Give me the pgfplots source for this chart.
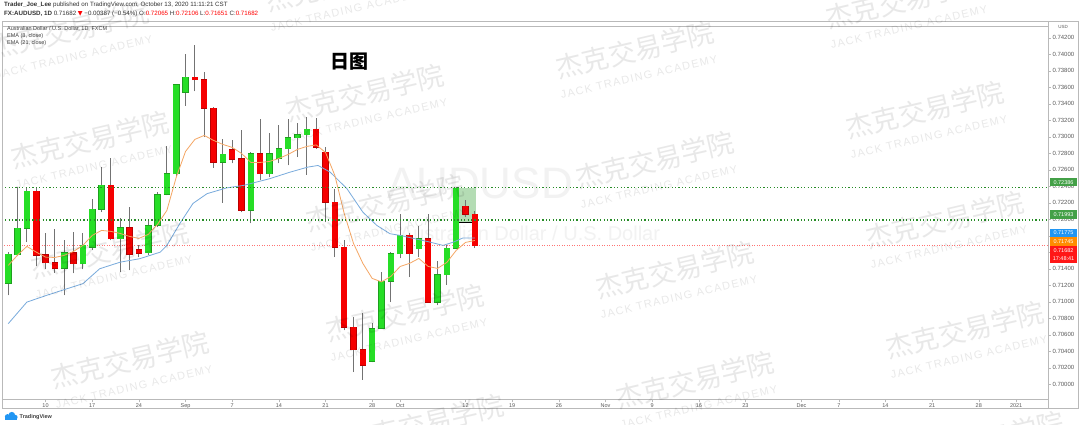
\documentclass[border=0pt]{standalone}
\usepackage{pgfplots}
\pgfplotsset{compat=1.18}
\usepackage{pgfplotstable}
\usepackage{fontspec}
\setmainfont{Liberation Sans}
\newfontfamily\cjk{Noto Sans CJK SC}
\newfontfamily\dejavu{DejaVu Sans}
\newfontfamily\wmfont[LetterSpace=12]{Liberation Sans}

\definecolor{cgreen}{RGB}{38,222,38}
\definecolor{cgreenb}{RGB}{30,160,30}
\definecolor{cred}{RGB}{245,0,0}
\definecolor{credb}{RGB}{185,0,0}
\definecolor{wick}{RGB}{115,115,115}
\definecolor{emaor}{RGB}{245,166,100}
\definecolor{emabl}{RGB}{120,170,220}
\definecolor{hgreen}{RGB}{40,140,40}
\definecolor{boxgreen}{RGB}{67,160,71}
\definecolor{boxblue}{RGB}{33,150,243}
\definecolor{boxorange}{RGB}{255,140,0}
\definecolor{boxred}{RGB}{255,23,23}
\definecolor{tvblue}{RGB}{33,150,243}
\definecolor{axgray}{RGB}{185,185,185}
\definecolor{txtgray}{RGB}{90,90,90}
\definecolor{posgreen}{RGB}{180,220,180}

\pgfplotstableread{
i O H L C
0 0.71224 0.71600 0.71079 0.71576
1 0.71572 0.72388 0.71551 0.71895
2 0.71895 0.72391 0.71725 0.72339
6 0.71410 0.71745 0.71079 0.71596
8 0.71463 0.71830 0.71394 0.71685
9 0.71660 0.72242 0.71624 0.72121
10 0.72121 0.72634 0.72088 0.72412
12 0.71766 0.72016 0.71358 0.71901
15 0.71594 0.71988 0.71564 0.71924
16 0.71927 0.72327 0.71903 0.72299
17 0.72303 0.72888 0.72291 0.72554
18 0.72554 0.73642 0.72513 0.73630
19 0.73543 0.74008 0.73376 0.73725
23 0.72694 0.72970 0.72200 0.72788
26 0.72109 0.72812 0.71952 0.72796
28 0.72554 0.73042 0.72509 0.72796
29 0.72743 0.73139 0.72679 0.72857
30 0.72857 0.73221 0.72654 0.72990
31 0.72990 0.73164 0.72755 0.73027
32 0.73027 0.73236 0.72542 0.73091
39 0.70279 0.70739 0.70267 0.70675
40 0.70682 0.71361 0.70673 0.71248
41 0.71248 0.71600 0.70998 0.71584
42 0.71584 0.72069 0.71527 0.71806
44 0.71645 0.71921 0.71543 0.71766
46 0.70998 0.71491 0.70958 0.71331
47 0.71331 0.71685 0.71208 0.71652
48 0.71652 0.72391 0.71648 0.72379
}\greencandles

\pgfplotstableread{
i O H L C
3 0.72339 0.72391 0.71434 0.71564
4 0.71572 0.71830 0.71394 0.71475
5 0.71475 0.71885 0.71352 0.71410
7 0.71596 0.71842 0.71345 0.71463
11 0.72412 0.72739 0.71745 0.71766
13 0.71901 0.72145 0.71382 0.71576
14 0.71633 0.71685 0.71539 0.71592
20 0.73725 0.74109 0.73552 0.73693
21 0.73693 0.73785 0.72998 0.73349
22 0.73349 0.73360 0.72624 0.72694
24 0.72845 0.72958 0.72679 0.72731
25 0.72733 0.73079 0.72085 0.72109
27 0.72796 0.73221 0.72473 0.72554
33 0.73091 0.73228 0.72857 0.72876
34 0.72816 0.72873 0.71967 0.72210
35 0.72210 0.72372 0.71543 0.71661
36 0.71661 0.71745 0.70655 0.70695
37 0.70695 0.70818 0.70149 0.70418
38 0.70418 0.70861 0.70058 0.70230
43 0.71806 0.71830 0.71301 0.71584
45 0.71766 0.72069 0.70988 0.70998
49 0.72161 0.72230 0.72024 0.72065
50 0.72065 0.72106 0.71651 0.71682
}\redcandles

\pgfplotstableread{
i v
0 0.71442
1 0.71567
2 0.71673
3 0.71604
4 0.71543
5 0.71539
6 0.71564
7 0.71612
8 0.71685
9 0.71806
10 0.71867
11 0.71855
12 0.71830
13 0.71794
14 0.71770
15 0.71818
16 0.71940
17 0.72109
18 0.72509
19 0.72824
20 0.72970
21 0.73018
22 0.72958
23 0.72909
24 0.72873
25 0.72800
26 0.72691
27 0.72691
28 0.72703
29 0.72739
30 0.72788
31 0.72849
32 0.72885
33 0.72903
34 0.72812
35 0.72533
36 0.72073
37 0.71709
38 0.71467
39 0.71285
40 0.71243
41 0.71309
42 0.71430
43 0.71467
44 0.71527
45 0.71430
46 0.71406
47 0.71479
48 0.71624
49 0.71721
50 0.71745
}\emaeight

\pgfplotstableread{
i v
0 0.70736
2 0.70998
4.1 0.71079
6.3 0.71160
8 0.71221
9.8 0.71402
12 0.71482
14.1 0.71524
16.3 0.71604
17 0.71685
18.4 0.71952
19.8 0.72194
21.3 0.72312
23.4 0.72382
25.2 0.72412
28 0.72493
30.2 0.72573
32.1 0.72634
33.2 0.72654
34.5 0.72573
36.3 0.72372
38 0.72088
39.5 0.71927
40.9 0.71827
42 0.71806
45.2 0.71725
46.6 0.71685
47.7 0.71725
48.7 0.71774
50 0.71775
}\ematwentyone

\newcommand\wm[2]{%
 \node[rotate=13, text=black, text opacity=0.09, font=\cjk\fontsize{27}{27}\selectfont, inner sep=0pt] at (#1,{425-(#2)}) {杰克交易学院};%
 \node[rotate=13, text=black, text opacity=0.09, font=\wmfont\fontsize{11}{11}\selectfont, inner sep=0pt] at ({#1+4},{425-(#2)-27}) {JACK TRADING ACADEMY};}

\pgfplotsset{candle/.style 2 args={draw=none, mark=none, error bars/.cd, y dir=plus, y explicit, error mark=none,
  error bar style={solid, line width=#1, draw=#2}}}

\begin{document}
\begin{tikzpicture}[x=1pt,y=1pt]
\useasboundingbox (0,0) rectangle (1080,425);
\fill[white] (0,0) rectangle (1080,425);

% symbol watermark
\node[text=black!5, font=\fontsize{44}{44}\selectfont] at (480,242) {AUDUSD};
\node[text=black!5, font=\fontsize{20}{20}\selectfont] at (530,192) {Australian Dollar / U.S. Dollar};

\begin{axis}[
  at={(2,31)}, anchor=south west,
  scale only axis, width=1046pt, height=373pt,
  xmin=-0.68, xmax=111.4,
  ymin=0.698182, ymax=0.743394,
  axis line style={draw=axgray, line width=0.5pt},
  xtick={4,9,14,19,24,29,34,39,42,49,54,59,64,69,74,79,85,89,94,99,104,108},
  xticklabels={10,17,24,Sep,7,14,21,28,Oct,12,19,26,Nov,9,16,23,Dec,7,14,21,28,2021},
  ytick={0.700,0.702,0.704,0.706,0.708,0.710,0.712,0.714,0.716,0.718,0.720,0.722,0.724,0.726,0.728,0.730,0.732,0.734,0.736,0.738,0.740,0.742},
  yticklabel pos=right,
  xtick pos=left, ytick pos=right,
  tick align=outside,
  major tick length=3pt,
  tick style={draw=axgray, line width=0.5pt},
  xticklabel style={font=\fontsize{5.5}{6}\selectfont, text=txtgray, inner sep=0pt, yshift=-1.5pt},
  yticklabel style={font=\fontsize{6}{6}\selectfont, text=txtgray, inner sep=0pt, xshift=1.5pt,
    /pgf/number format/fixed, /pgf/number format/fixed zerofill, /pgf/number format/precision=5,
    /pgf/number format/assume math mode=true},
  scaled y ticks=false,
  clip=true,
]
% current price line
\addplot[draw=red!55, line width=0.6pt, dash pattern=on 1pt off 1.5pt] coordinates {(-0.68,0.71682) (111.4,0.71682)};
% position tool
\addplot[fill=posgreen, draw=none] coordinates {(48.1,0.71967) (50.1,0.71967) (50.1,0.72386) (48.1,0.72386)};
% wicks
\addplot[candle={1pt}{wick}] table[x=i, y=L, y error expr=\thisrow{H}-\thisrow{L}] {\greencandles};
\addplot[candle={1pt}{wick}] table[x=i, y=L, y error expr=\thisrow{H}-\thisrow{L}] {\redcandles};
% body borders
\addplot[candle={6.6pt}{cgreenb}] table[x=i, y expr=\thisrow{O}-0.00006, y error expr=\thisrow{C}-\thisrow{O}+0.00012] {\greencandles};
\addplot[candle={6.6pt}{credb}] table[x=i, y expr=\thisrow{C}-0.00006, y error expr=\thisrow{O}-\thisrow{C}+0.00012] {\redcandles};
% bodies
\addplot[candle={5.6pt}{cgreen}] table[x=i, y=O, y error expr=\thisrow{C}-\thisrow{O}] {\greencandles};
\addplot[candle={5.6pt}{cred}] table[x=i, y=C, y error expr=\thisrow{O}-\thisrow{C}] {\redcandles};
% EMAs
\addplot[draw=emabl, line width=0.8pt, mark=none] table[x=i, y=v] {\ematwentyone};
\addplot[draw=emaor, line width=0.8pt, mark=none] table[x=i, y=v] {\emaeight};
% horizontal levels
\addplot[draw=hgreen, line width=1.3pt, dash pattern=on 1.2pt off 2.2pt] coordinates {(-0.68,0.72386) (111.4,0.72386)};
\addplot[draw=hgreen, line width=1.3pt, dash pattern=on 1.2pt off 2.2pt] coordinates {(-0.68,0.71993) (111.4,0.71993)};
\addplot[draw=black, line width=1pt] coordinates {(48.3,0.71967) (49.7,0.71967)};
\end{axis}

% frame
\draw[axgray, line width=0.5pt] (2,17) rectangle (1078,404);
\draw[axgray, line width=0.5pt] (1048,17) -- (1048,404);

% right axis labels
\node[text=txtgray, font=\fontsize{4.5}{5}\selectfont] at (1063,398) {USD};
\tikzset{pl/.style={text=white, font=\fontsize{5.5}{6}\selectfont, minimum width=27pt, minimum height=8.6pt, inner sep=0pt}}
\node[pl, fill=boxgreen] at (1063.5,242.8) {0.72386};
\node[pl, fill=boxgreen] at (1063.5,210.4) {0.71993};
\node[pl, fill=boxblue] at (1063.5,192) {0.71775};
\node[pl, fill=boxorange] at (1063.5,183.2) {0.71745};
\node[pl, fill=boxred] at (1063.5,174.6) {0.71682};
\node[pl, fill=boxred] at (1063.5,166) {17:48:41};

% header
\node[anchor=west, inner sep=0pt, font=\fontsize{6.2}{7}\selectfont, text=black!80] at (4,420) {\textbf{Trader\_Joe\_Lee} published on TradingView.com, October 13, 2020 11:11:21 CST};
\node[anchor=west, inner sep=0pt, font=\fontsize{6.2}{7}\selectfont, text=black!80] at (4,411) {\textbf{FX:AUDUSD, 1D} 0.71682 {\color{red}\dejavu ▼} −0.00387 (−0.54\%) O:{\color{red}0.72065} H:{\color{red}0.72106} L:{\color{red}0.71651} C:{\color{red}0.71682}};

% legend
\node[anchor=west, inner sep=0pt, font=\fontsize{5.5}{6}\selectfont, text=black!75] at (7,396) {Australian Dollar / U.S. Dollar, 1D, FXCM};
\node[anchor=west, inner sep=0pt, font=\fontsize{5.5}{6}\selectfont, text=black!75] at (7,389) {EMA (8, close)};
\node[anchor=west, inner sep=0pt, font=\fontsize{5.5}{6}\selectfont, text=black!75] at (7,382) {EMA (21, close)};

% title
\node[font=\cjk\bfseries\fontsize{19}{19}\selectfont] at (349,363) {日图};

% footer
\fill[tvblue] (4.5,5) rectangle (17,8.5);
\fill[tvblue] (7.5,8.3) circle (2.6);
\fill[tvblue] (11.8,9.8) circle (3.3);
\fill[tvblue] (15.3,7.8) circle (2.3);
\node[anchor=west, inner sep=0pt, font=\bfseries\fontsize{5.5}{6}\selectfont, text=black!75] at (19.5,7.5) {TradingView};

% watermarks
\wm{70}{30}\wm{90}{140}\wm{110}{250}\wm{130}{360}
\wm{345}{-17}\wm{365}{93}\wm{385}{203}\wm{405}{313}\wm{425}{423}
\wm{635}{50}\wm{655}{160}\wm{675}{270}\wm{695}{380}
\wm{905}{0}\wm{925}{110}\wm{945}{220}\wm{965}{330}\wm{985}{440}
\end{tikzpicture}
\end{document}
